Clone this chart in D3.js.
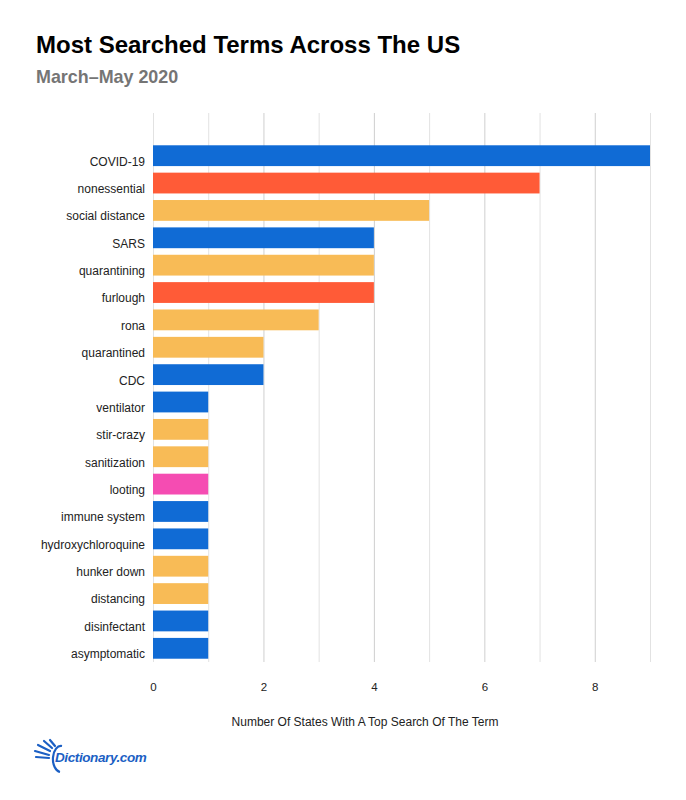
<!DOCTYPE html>
<html>
<head>
<meta charset="utf-8">
<script src="https://cdn.jsdelivr.net/npm/d3@7"></script>
<style>
  body { margin: 0; background: #fff; }
  text { font-family: "Liberation Sans", Arial, sans-serif; }
</style>
</head>
<body>
<svg width="686" height="800"></svg>
<script>
/* data */
var terms = ["COVID-19", "nonessential", "social distance", "SARS", "quarantining", "furlough",
  "rona", "quarantined", "CDC", "ventilator", "stir-crazy", "sanitization", "looting",
  "immune system", "hydroxychloroquine", "hunker down", "distancing", "disinfectant", "asymptomatic"];
var counts = [9, 7, 5, 4, 4, 4, 3, 2, 2, 1, 1, 1, 1, 1, 1, 1, 1, 1, 1];
var groups = ["blue", "red", "yellow", "blue", "yellow", "red", "yellow", "yellow", "blue", "blue",
  "yellow", "yellow", "pink", "blue", "blue", "yellow", "yellow", "blue", "blue"];
var tickValues = [0, 2, 4, 6, 8];
var gridValues = [0, 1, 2, 3, 4, 5, 6, 7, 8, 9];

var colors = {blue: "#106bd5", red: "#ff5b37", yellow: "#f8bb56", pink: "#f54cb2"};

var data = terms.map(function(t, i) { return {term: t, count: counts[i], group: groups[i]}; });

var svg = d3.select("svg");

/* scales */
var x = d3.scaleLinear().domain([0, 9]).range([153, 650]);
var y = d3.scaleBand().domain(terms).range([142, 662]).paddingInner(0.24).paddingOuter(0.12);

/* title */
svg.append("text")
    .attr("x", 36).attr("y", 53)
    .attr("font-size", 24).attr("font-weight", "bold").attr("fill", "#000")
    .text("Most Searched Terms Across The US");

svg.append("text")
    .attr("x", 36).attr("y", 83)
    .attr("font-size", 17.9).attr("font-weight", "bold").attr("fill", "#757575")
    .text("March\u2013May 2020");

/* vertical grid */
svg.append("g").selectAll("line")
  .data(gridValues)
  .enter().append("line")
    .attr("x1", function(d) { return x(d) + 0.5; })
    .attr("x2", function(d) { return x(d) + 0.5; })
    .attr("y1", 113).attr("y2", 662)
    .attr("stroke", function(d) { return d % 2 === 0 && d > 0 ? "#cfcfcf" : "#e2e2e2"; })
    .attr("stroke-width", 1);

/* bars */
svg.append("g").selectAll("rect")
  .data(data)
  .enter().append("rect")
    .attr("x", x(0))
    .attr("y", function(d) { return y(d.term); })
    .attr("width", function(d) { return x(d.count) - x(0); })
    .attr("height", y.bandwidth())
    .attr("fill", function(d) { return colors[d.group]; });

/* y labels, baseline sits on the bar's bottom edge */
var yAxis = svg.append("g")
    .attr("transform", "translate(" + (x(0) - 8) + ",0)")
    .call(d3.axisLeft(y).tickSize(0).tickPadding(0));
yAxis.select(".domain").remove();
yAxis.selectAll("text")
    .attr("font-size", 12).attr("fill", "#222")
    .attr("dy", (y.bandwidth() / 2 - 0.5) + "px")
    .style("font-family", "'Liberation Sans', Arial, sans-serif");

/* x labels */
var xAxis = svg.append("g")
    .attr("transform", "translate(0,683)")
    .call(d3.axisBottom(x).tickValues(tickValues).tickSize(0).tickPadding(0));
xAxis.select(".domain").remove();
xAxis.selectAll("text")
    .attr("font-size", 11.5).attr("fill", "#222").attr("dy", "0.71em")
    .style("font-family", "'Liberation Sans', Arial, sans-serif");

svg.append("text")
    .attr("x", 365).attr("y", 726)
    .attr("text-anchor", "middle")
    .attr("font-size", 12).attr("fill", "#222")
    .text("Number Of States With A Top Search Of The Term");

/* logo */
var logo = svg.append("g").attr("transform", "translate(36,744)");
var rays = [[8, -3, 16, 4], [2, 1, 14, 7], [-1, 7, 13, 11], [0, 13, 13, 14], [14, -4, 19, 2]];
logo.selectAll("line")
  .data(rays)
  .enter().append("line")
    .attr("x1", function(d) { return d[0]; })
    .attr("y1", function(d) { return d[1]; })
    .attr("x2", function(d) { return d[2]; })
    .attr("y2", function(d) { return d[3]; })
    .attr("stroke", "#1b5fc4").attr("stroke-width", 2.2).attr("stroke-linecap", "round");
logo.append("path")
    .attr("d", "M26,2 A8,13 0 0,0 24,28")
    .attr("fill", "none").attr("stroke", "#1b5fc4").attr("stroke-width", 2.2);
logo.append("text")
    .attr("x", 19).attr("y", 18)
    .attr("font-size", 13.5).attr("font-weight", "bold").attr("font-style", "italic")
    .attr("fill", "#1b5fc4").attr("letter-spacing", -0.4)
    .text("Dictionary.com");
</script>
</body>
</html>
